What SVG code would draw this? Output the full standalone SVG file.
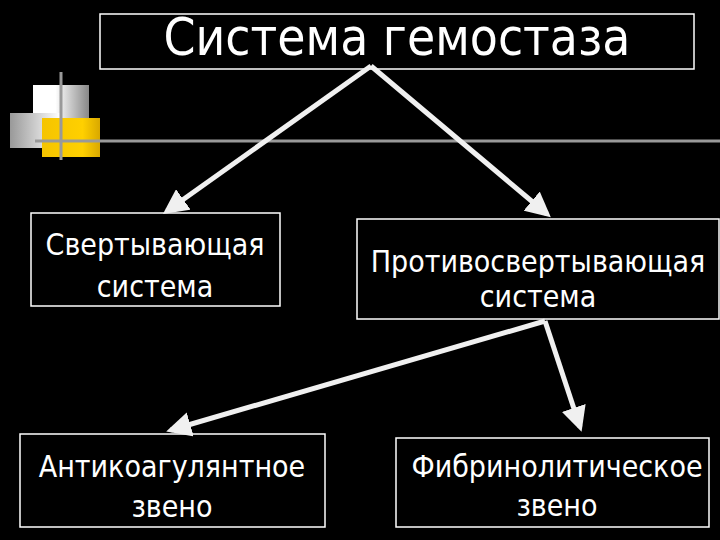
<svg xmlns="http://www.w3.org/2000/svg" width="720" height="540" viewBox="0 0 720 540">
<defs>
<style>
.box{fill:none;stroke:#fff;stroke-width:1.5}
.t{fill:#fff;font-family:"DejaVu Sans Condensed","DejaVu Sans","Liberation Sans",sans-serif;font-stretch:condensed;text-anchor:middle;font-size:30px}
.h{font-size:51px}
.c{stroke:#f0f0f0;stroke-width:5;fill:none;marker-end:url(#a)}
</style>
<marker id="a" viewBox="0 0 10 10" refX="8" refY="5" markerWidth="5" markerHeight="5" orient="auto" markerUnits="strokeWidth"><path d="M0,0L10,5L0,10z" fill="#f0f0f0"/></marker>
<linearGradient id="gw" x1="0" x2="1"><stop offset="0.4" stop-color="#fff"/><stop offset="1" stop-color="#888"/></linearGradient>
<linearGradient id="gg" x1="0" x2="1"><stop offset="0" stop-color="#999"/><stop offset="1" stop-color="#fff"/></linearGradient>
<linearGradient id="gy" x1="0" x2="1"><stop offset="0" stop-color="#f5c400"/><stop offset="0.7" stop-color="#ffd000"/><stop offset="1" stop-color="#d9a800"/></linearGradient>
</defs>
<rect width="720" height="540" fill="#000"/>
<g id="decor">
<rect x="33" y="85" width="56" height="34" fill="url(#gw)"/>
<rect x="10" y="113" width="50" height="35" fill="url(#gg)"/>
<rect x="42" y="118" width="58" height="39" fill="url(#gy)"/>
<line x1="61" y1="72" x2="61" y2="160" stroke="#999" stroke-width="3"/>
<line x1="35" y1="141" x2="720" y2="141" stroke="#999" stroke-width="3"/>
</g>
<g id="title"><rect class="box" x="100" y="14" width="594" height="55"/><text class="t h" x="397" y="55">Система гемостаза</text></g>
<g id="n1"><rect class="box" x="31" y="213" width="249" height="93"/><text class="t" x="155" y="255">Свертывающая</text><text class="t" x="155" y="297">система</text></g>
<g id="n2"><rect class="box" x="357" y="219" width="362" height="100"/><text class="t" x="538" y="272">Противосвертывающая</text><text class="t" x="538" y="307">система</text></g>
<g id="n3"><rect class="box" x="20" y="434" width="305" height="93"/><text class="t" x="172" y="477">Антикоагулянтное</text><text class="t" x="172" y="517">звено</text></g>
<g id="n4"><rect class="box" x="396" y="438" width="313" height="89"/><text class="t" x="557" y="477">Фибринолитическое</text><text class="t" x="557" y="516">звено</text></g>
<g id="connectors">
<line class="c" x1="371" y1="66" x2="167" y2="211"/>
<line class="c" x1="371" y1="66" x2="547" y2="214"/>
<line class="c" x1="545" y1="321" x2="171" y2="430"/>
<line class="c" x1="545" y1="321" x2="580" y2="427"/>
</g>
</svg>
